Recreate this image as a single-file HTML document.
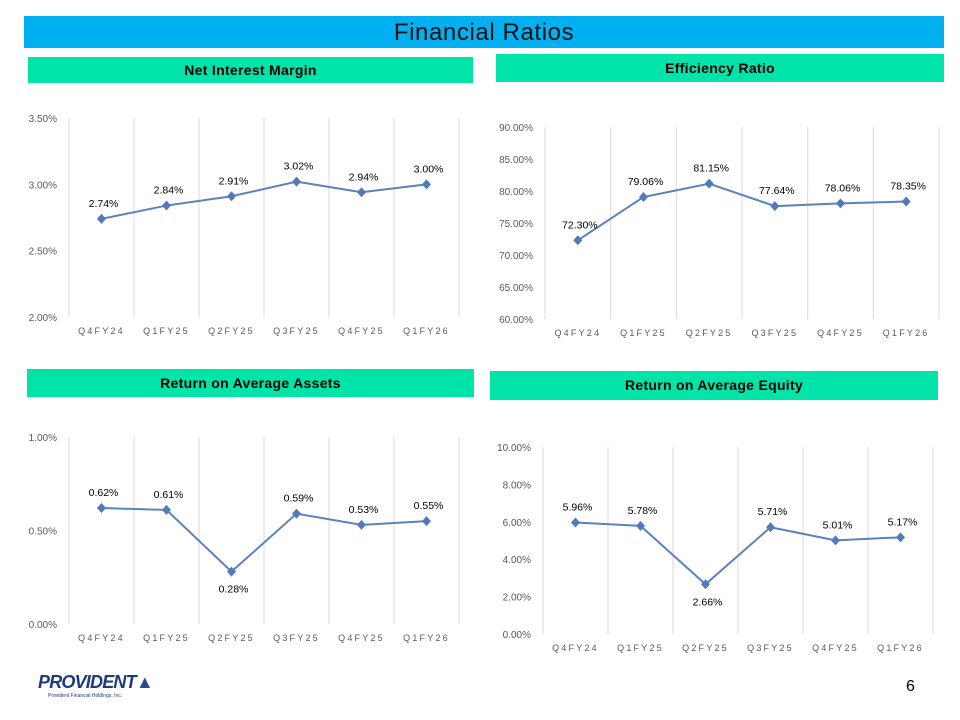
<!DOCTYPE html>
<html><head><meta charset="utf-8"><style>
body{margin:0;width:960px;height:720px;background:#fff;font-family:"Liberation Sans",sans-serif;position:relative;overflow:hidden}
.bar{position:absolute;background:#00e3a9;font-weight:bold;font-size:14px;text-align:center;color:#000;letter-spacing:0.3px}
svg{position:absolute;left:0;top:0}
</style></head><body>
<div style="position:absolute;left:24px;top:16px;width:920px;height:32px;background:#00b0f0;text-align:center;font-size:24px;line-height:33px;color:#111;letter-spacing:0.6px">Financial Ratios</div>
<div class="bar" style="left:28px;top:57px;width:445px;height:26px;line-height:26px">Net Interest Margin</div>
<div class="bar" style="left:496px;top:54px;width:448px;height:28px;line-height:28px">Efficiency Ratio</div>
<div class="bar" style="left:27px;top:369px;width:447px;height:28px;line-height:28px">Return on Average Assets</div>
<div class="bar" style="left:490px;top:371px;width:448px;height:29px;line-height:29px">Return on Average Equity</div>
<svg id="s" width="960" height="720"></svg>
<div style="position:absolute;left:38px;top:672px;width:112px;height:36px">
 <div style="font-weight:bold;font-style:italic;font-size:18px;color:#1f3a7a;letter-spacing:-0.8px">PROVIDENT<span style="color:#2a4b8f">▲</span></div>
 <div style="font-size:5px;color:#1f3a7a;margin-left:10px">Provident Financial Holdings, Inc.</div>
</div>
<div style="position:absolute;left:906px;top:678px;font-size:16px">6</div>
<script>
const categories=["Q4FY24","Q1FY25","Q2FY25","Q3FY25","Q4FY25","Q1FY26"];
const nimValues=[2.74,2.84,2.91,3.02,2.94,3.00];
const nimTicks=[2.00,2.50,3.00,3.50];
const effValues=[72.30,79.06,81.15,77.64,78.06,78.35];
const effTicks=[60,65,70,75,80,85,90];
const roaaValues=[0.62,0.61,0.28,0.59,0.53,0.55];
const roaaTicks=[0.00,0.50,1.00];
const roaeValues=[5.96,5.78,2.66,5.71,5.01,5.17];
const roaeTicks=[0,2,4,6,8,10];
const s=document.getElementById('s');const NS='http://www.w3.org/2000/svg';
function mk(t,a){const e=document.createElementNS(NS,t);for(const k in a)e.setAttribute(k,a[k]);s.appendChild(e);return e;}
function chart(id,vals,ticks,x0,x1,yTop,yBot,below){
 const mn=ticks[0],mx=ticks[ticks.length-1];const n=categories.length;const w=(x1-x0)/n;
 const X=i=>x0+w*(i+0.5);const Y=v=>yBot-(v-mn)/(mx-mn)*(yBot-yTop);
 for(let i=0;i<=n;i++){const g=mk('line',{x1:x0+w*i,x2:x0+w*i,y1:yTop,y2:yBot,stroke:'#d9d9d9','stroke-width':1});
  }
 ticks.forEach(t=>{const e=mk('text',{x:x0-12,y:Y(t)+4,'text-anchor':'end','font-size':10,fill:'#595959'});e.textContent=t.toFixed(2)+'%';
  });
 categories.forEach((c,i)=>{const e=mk('text',{x:X(i),y:yBot+17,'text-anchor':'middle','font-size':9,fill:'#595959','letter-spacing':'2.2'});e.textContent=c;
  });
 const l=mk('polyline',{points:vals.map((v,i)=>X(i)+','+Y(v)).join(' '),fill:'none',stroke:'#5a82be','stroke-width':2});
 
 vals.forEach((v,i)=>{const x=X(i),y=Y(v);
  const p=mk('polygon',{points:`${x},${y-5} ${x+4.5},${y} ${x},${y+5} ${x-4.5},${y}`,fill:'#4f7bbd'});
  
  const b=below&&below.includes(i);
  const t=mk('text',{x:x+2,y:b?y+21:y-12,'text-anchor':'middle','font-size':10.5,fill:'#000'});t.textContent=v.toFixed(2)+'%';
  });
}
chart('nim',nimValues,nimTicks,69,459,118,317);
chart('efficiency',effValues,effTicks,545,939,127,319);
chart('roaa',roaaValues,roaaTicks,69,459,437,624,[2]);
chart('roae',roaeValues,roaeTicks,543,933,447,634,[2]);
</script>
</body></html>
